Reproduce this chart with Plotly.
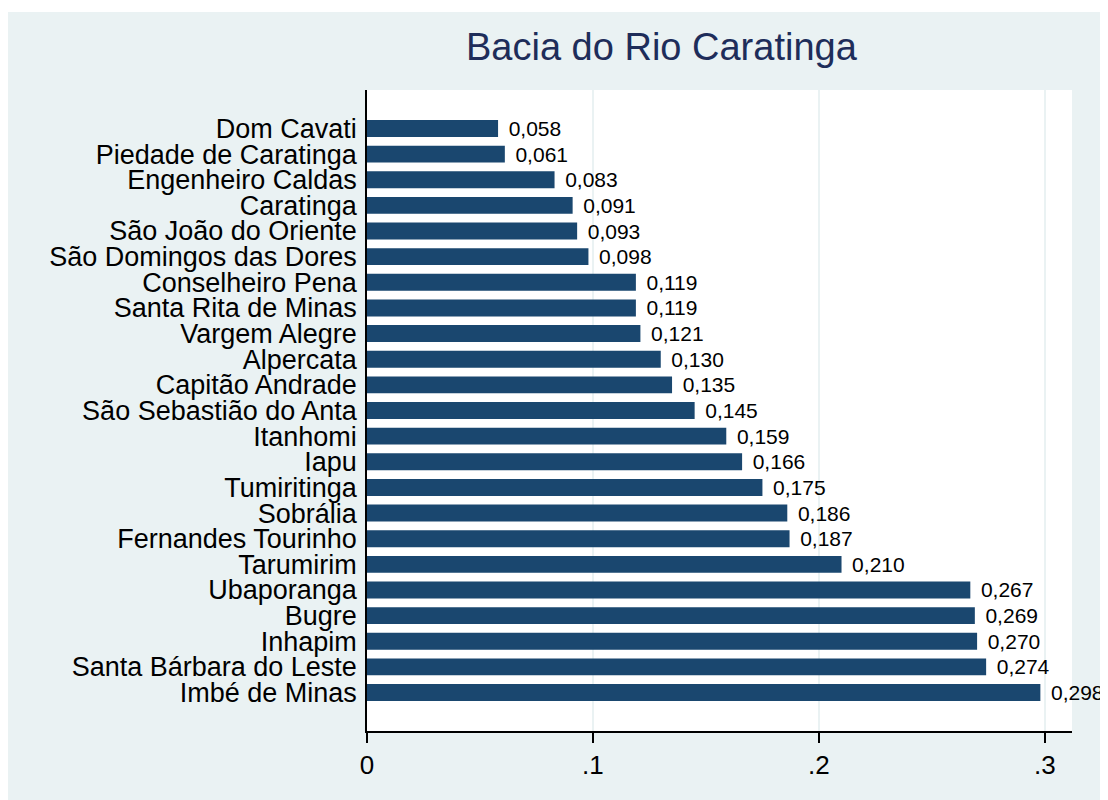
import plotly.graph_objects as go

# municípios da bacia, de cima para baixo
municipios = ['Dom Cavati', 'Piedade de Caratinga', 'Engenheiro Caldas', 'Caratinga',
              'São João do Oriente', 'São Domingos das Dores', 'Conselheiro Pena',
              'Santa Rita de Minas', 'Vargem Alegre', 'Alpercata', 'Capitão Andrade',
              'São Sebastião do Anta', 'Itanhomi', 'Iapu', 'Tumiritinga', 'Sobrália',
              'Fernandes Tourinho', 'Tarumirim', 'Ubaporanga', 'Bugre', 'Inhapim',
              'Santa Bárbara do Leste', 'Imbé de Minas']
valores = [0.058, 0.061, 0.083, 0.091, 0.093, 0.098, 0.119, 0.119, 0.121, 0.130, 0.135,
           0.145, 0.159, 0.166, 0.175, 0.186, 0.187, 0.210, 0.267, 0.269, 0.270, 0.274, 0.298]
x_ticks = [0, 0.1, 0.2, 0.3]
x_ticklabels = ['0', '.1', '.2', '.3']

pos = list(range(len(municipios)))
rotulos = [' \u200a' + f'{v:.3f}'.replace('.', ',') for v in valores]

fig = go.Figure(go.Bar(
    x=valores, y=pos, orientation='h', width=0.66,
    marker=dict(color='#1a476f', line=dict(width=0)),
    text=rotulos, textposition='outside', cliponaxis=False, constraintext='none',
    textfont=dict(size=21, color='black', family='Arial, Liberation Sans'),
))

# a página tem 8px de margem do body, por isso 1100x792
fig.update_layout(
    width=1100, height=792,
    margin=dict(l=359, r=36, t=82, b=69),
    paper_bgcolor='#eaf2f3', plot_bgcolor='white',
    font=dict(family='Arial, Liberation Sans', color='black'),
    showlegend=False,
    title=dict(text='Bacia do Rio Caratinga', x=0.594, xanchor='center', y=0.951, yanchor='middle',
               font=dict(size=38, color='#1e2d5a')),
    shapes=[dict(type='rect', xref='paper', yref='paper', x0=-0.6, x1=1.1,
                 y0=1.1217, y1=1.2, fillcolor='white', line=dict(width=0), layer='below'),
            dict(type='rect', xref='paper', yref='paper', x0=1.0440, x1=1.1,
                 y0=-0.2, y1=1.2, fillcolor='white', line=dict(width=0), layer='below')],
)

fig.update_xaxes(range=[0, 0.312], tickvals=x_ticks, ticktext=x_ticklabels,
                 showgrid=True, gridcolor='#eaf2f3', gridwidth=2,
                 showline=True, linecolor='black', linewidth=1.5,
                 ticks='outside', ticklen=10, tickcolor='black', tickwidth=1.5,
                 tickfont=dict(size=26), zeroline=False)
fig.update_yaxes(range=[len(municipios) + 0.5, -1.5], tickvals=pos, ticktext=municipios,
                 showgrid=False, showline=True, linecolor='black', linewidth=1.5,
                 ticks='', ticklabelstandoff=3, tickfont=dict(size=27), zeroline=False)

fig.write_html('out.html')
